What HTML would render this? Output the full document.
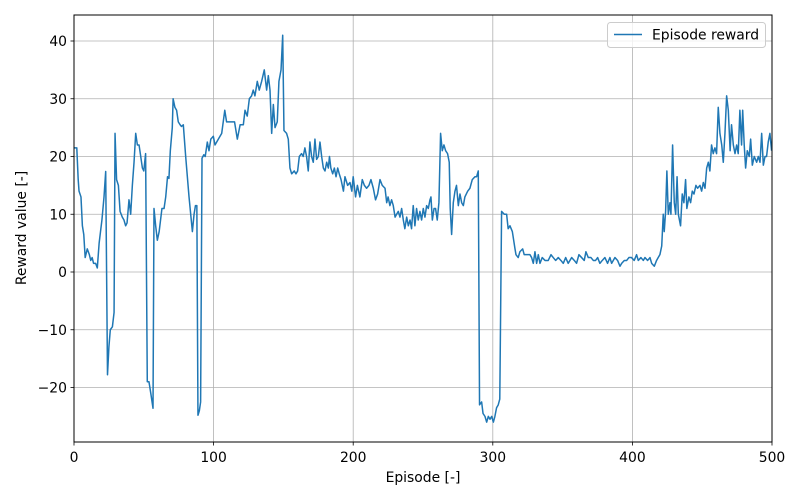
<!DOCTYPE html>
<html><head><meta charset="utf-8"><style>
html,body{margin:0;padding:0;background:#fff;}
svg{display:block;font-family:"DejaVu Sans","Liberation Sans",sans-serif;}
</style></head><body>
<svg id="chart" width="800" height="500" viewBox="0 0 800 500">
<rect x="0" y="0" width="800" height="500" fill="#fff"/>
<g id="grid"></g>
<g id="xticks"></g>
<g id="yticks"></g>
<g id="series"></g>
<rect x="74" y="15" width="698" height="427" fill="none" stroke="#000" stroke-width="1"/>
<text x="423" y="482" font-size="13.9" text-anchor="middle">Episode [-]</text>
<text x="0" y="0" font-size="13.9" text-anchor="middle" transform="translate(26,228) rotate(-90)">Reward value [-]</text>
<g>
<rect x="607.5" y="22.5" width="158" height="25" rx="3" fill="#fff" fill-opacity="0.8" stroke="#ccc"/>
<line x1="614" y1="34.5" x2="642" y2="34.5" stroke="#1f77b4" stroke-width="1.5"/>
<text x="652" y="39.5" font-size="13.9">Episode reward</text>
</g>
</svg>
<script>
const episodes = [0,1,2,3,3.6,5,6,7,8,9.5,11,12,13,14,15.5,16.7,18,19,20,21.5,22.7,24,25,26,27.5,28.7,29.4,30.5,31.8,33,34.6,35.8,37,38,39.4,40.6,41.8,43,44.2,45.4,46.6,47.8,49,50,51.3,52.5,53.7,55,56.6,57.3,58.5,59.7,61,62,63,64.5,65.7,67,68,69,70.4,71,72.3,73.5,74.7,76,77,78.3,80,82.4,84.8,86,87,88,88.8,89.8,90.7,91.7,93,94,95.5,96.7,98,99.8,101,103.4,105.8,108,109.3,111.7,115,117,119,121.3,122.5,124.1,125.6,127.2,128.4,129.6,131.3,132.7,134.4,136.3,138,139.2,140.4,141.6,142.8,144,145.6,146.8,148.3,149.5,150.4,152.3,153.5,154.7,155.9,157.8,159,160.2,161.4,163,164.2,165.4,166.6,167.8,169,170.2,171.4,172.6,173.8,175,176.2,177.4,178.6,179.8,181,182.2,183,184,185.3,186.5,187.7,188.9,190,191.3,193,194.1,196,197.7,199,200,201.7,203,204.8,206.5,208,209.6,211.3,212.7,214.4,216,217.5,219.2,220.8,222.8,224,225,226.3,227.5,228.7,230,231.1,232.3,233.5,234.7,235.9,237,238.3,239.5,240.7,241.8,243,244.2,245.4,246.6,247.8,249,250.2,251.4,252.6,253.8,255,255.7,256.7,257.9,259,260.2,261.4,262.6,263.8,265,266.2,267.6,268.8,269.5,270.5,271.7,272.9,274,275.3,276.5,277.7,278.9,280,282,283.6,285.3,287.2,288.4,289.6,290.5,292,293,294.4,295.6,296.8,298,299.2,300.4,301.5,302.7,303.9,305,306.3,308.2,309.9,311,312.3,314,315.9,316.6,318.2,319.4,321.4,322.5,324.2,326.6,327.8,329,330.2,331.4,332.6,333.8,335.4,337.4,339.7,341.7,343.3,345,346.9,348.8,350.5,352.2,354,356.5,358.4,360,361.7,363.6,365.5,366.7,368.4,370.3,372,373.6,375.1,376.7,378.4,380.3,382.2,383.9,385.1,387.5,389.4,391.1,392.3,394.2,395.9,397.5,399.4,401.3,403,404.2,406.1,407.8,409,410.9,412.6,413.8,415.7,417.3,418.5,419.7,421,422.1,422.8,423.8,424.7,425.7,426.9,427.6,428.8,430,431,432,432.9,434.5,435.7,436.9,438.1,439,440.5,441.7,442.9,444.1,445.5,446.7,448.4,449.6,450.8,452,453.2,454.4,455.5,456.7,457.9,459.1,460.3,461.5,462.7,464,465.1,466.3,467.5,468.7,470,471,472.3,473.5,474.7,475.8,477,478.2,479,480.1,481.1,482.3,483.7,484.7,485.9,487.3,489,490.2,491.4,492.6,493.8,495,496.1,497.3,498.5,499.7];
const rewards = [21.5,21.5,21.5,16,14,13,8,6.5,2.5,4,3,2,2.5,1.5,1.5,0.7,5,7,9,13,17.4,-17.8,-13,-10,-9.5,-7,24,16,15,10.5,9.5,9,8,8.5,12.5,10,15,19,24,22,22,20,18,17.5,20.5,-19,-19,-21,-23.6,11,8,5.5,7,9,11,11,13,16.5,16.2,21,25,30,28.5,28,26,25.5,25.2,25.5,20,13,7,10,11.5,11.5,-24.8,-24,-22.5,19.7,20.3,20,22.5,21,23,23.5,22,23,24,28,26,26,26,23,25.5,25.5,28,27,30,30.5,31.5,30.5,33,31.5,33,35,31.5,34,31.5,24,29,25,26,33,35,41,24.5,24,23,18,17,17.5,17,17.5,20,20.5,20,21.5,20,17.5,22.5,20,19,23,19.5,20,22.5,20,18,17.5,19,18,20,18,17,18,16.5,18,17,16,14,16.5,15,15.5,14,16.5,13,15,13,16,15,14.5,15,16,14.5,12.5,13.5,16,15,14.5,12,13,11.5,12.5,11.5,9.5,10,10.5,9.5,11,9,7.5,9.5,8,9,7.5,11.5,8,11,9,10.5,9,11,9.5,11.5,11,12.5,13,9,11,11,9,12,24,21,22,21,20.5,19,11,6.5,12,14,15,11.5,13.5,12,11.5,13,14,14.5,16,16.5,16.5,17.5,-23,-22.5,-24.5,-25,-26,-25,-25.5,-25,-26,-25,-23.5,-23,-22,10.5,10,10,7.5,8,7,4,3,2.5,3.5,4,3,3,3,2.5,1.5,3.5,1.5,3,1.5,2.5,2,2,3,2.5,2,2.5,2,1.5,2.5,1.5,2.5,2,1.5,3,2.5,2,3.5,2.5,2.5,2,2,2.5,1.5,2,2.5,1.5,2.5,1.5,2.5,2,1,1.5,2,2,2.5,2.5,2,3,2,2.5,2,2.5,2,2.5,1.5,1,2,2.5,3,4.5,10,7,10.5,17.5,10,12,10,22,12,10,16.5,10,8,13.5,12,16,11,13,12,14,13.5,15,14.5,15,14,15.5,14.5,18,19,17.5,22,20.5,21.5,20.5,28.5,24,22,19,24,30.5,28,21,25.5,22,20.5,22,20.5,28,22,28,22,18,21,20,23,18.5,20,19,20,19,24,18.5,20,20,22.5,24,21];
const xTickValues = [0,100,200,300,400,500];
const xTickLabels = ["0","100","200","300","400","500"];
const yTickValues = [-20,-10,0,10,20,30,40];
const yTickLabels = ["\u221220","\u221210","0","10","20","30","40"];

const NS = "http://www.w3.org/2000/svg";
const L = 74, R = 772, T = 15, B = 442;
function xScale(v){ return L + (v - 0) / 500 * (R - L); }
function yScale(v){ return 272 - v * 5.775; }
function mk(tag, attrs, parent){
  const el = document.createElementNS(NS, tag);
  for (const k in attrs) el.setAttribute(k, attrs[k]);
  parent.appendChild(el);
  return el;
}
const grid = document.getElementById('grid');
const xt = document.getElementById('xticks');
const yt = document.getElementById('yticks');
xTickValues.forEach((v, i) => {
  const x = xScale(v);
  const g = mk('line', {x1:x, y1:T, x2:x, y2:B, stroke:'#b0b0b0', 'stroke-width':0.8}, grid);
  
  
  const t = mk('line', {x1:x, y1:B, x2:x, y2:B+3.5, stroke:'#000', 'stroke-width':0.8}, xt);
  
  
  const lb = mk('text', {x:x, y:B+20, 'font-size':13.9, 'text-anchor':'middle'}, xt);
  lb.textContent = xTickLabels[i];
  
  
});
yTickValues.forEach((v, i) => {
  const y = yScale(v);
  const g = mk('line', {x1:L, y1:y, x2:R, y2:y, stroke:'#b0b0b0', 'stroke-width':0.8}, grid);
  
  
  const t = mk('line', {x1:L-3.5, y1:y, x2:L, y2:y, stroke:'#000', 'stroke-width':0.8}, yt);
  
  
  const lb = mk('text', {x:L-7, y:y+5, 'font-size':13.9, 'text-anchor':'end'}, yt);
  lb.textContent = yTickLabels[i];
  
  
});
const pts = episodes.map((e, i) => xScale(e).toFixed(2) + ',' + yScale(rewards[i]).toFixed(2)).join(' ');
const line = mk('polyline', {points:pts, fill:'none', stroke:'#1f77b4', 'stroke-width':1.5, 'stroke-linejoin':'round'}, document.getElementById('series'));


</script>
</body></html>
